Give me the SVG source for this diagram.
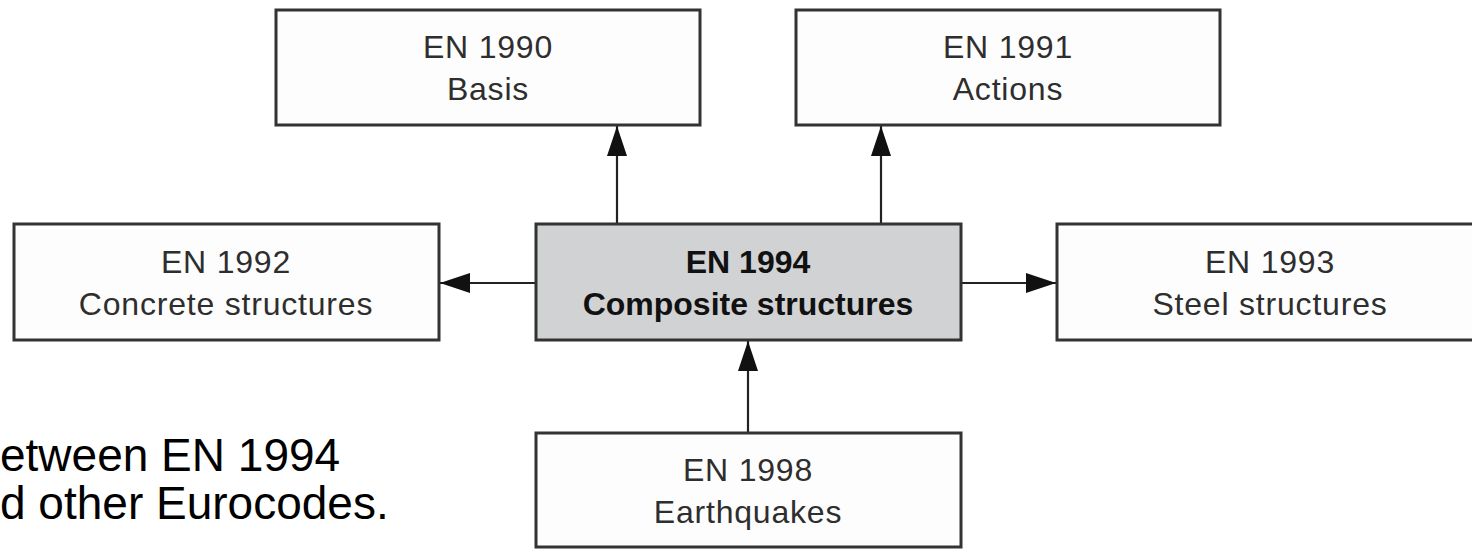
<svg xmlns="http://www.w3.org/2000/svg" width="1472" height="549" viewBox="0 0 1472 549">
<style>
.box{fill:#fdfdfd;stroke:#333;stroke-width:3}
.main{fill:#d1d2d4;stroke:#333;stroke-width:3}
.t{font-family:"Liberation Sans",Arial,sans-serif;font-size:32px;letter-spacing:0.8px;fill:#2e2e2e;text-anchor:middle}
.b{font-family:"Liberation Sans",Arial,sans-serif;font-size:32px;font-weight:bold;fill:#111;text-anchor:middle}
.cap{font-family:"Liberation Sans",Arial,sans-serif;font-size:46px;fill:#000}
.c{stroke:#222;stroke-width:2.2;fill:none;marker-end:url(#ah)}
</style>
<defs>
<marker id="ah" viewBox="0 0 30 20" refX="30" refY="10" markerWidth="30" markerHeight="20" markerUnits="userSpaceOnUse" orient="auto">
<path d="M0,0 L30,10 L0,20 Z" fill="#111"/>
</marker>
</defs>
<rect width="1472" height="549" fill="#fff"/>
<g id="connectors">
<line class="c" x1="617" y1="224" x2="617" y2="126"/>
<line class="c" x1="881" y1="224" x2="881" y2="126"/>
<line class="c" x1="536" y1="283" x2="440" y2="283"/>
<line class="c" x1="961" y1="283" x2="1056" y2="283"/>
<line class="c" x1="748" y1="433" x2="748" y2="341"/>
</g>
<g id="en1990">
<rect class="box" x="276" y="10" width="424" height="115"/>
<text class="t" x="488" y="58">EN 1990</text>
<text class="t" x="488" y="100">Basis</text>
</g>
<g id="en1991">
<rect class="box" x="796" y="10" width="424" height="115"/>
<text class="t" x="1008" y="58">EN 1991</text>
<text class="t" x="1008" y="100">Actions</text>
</g>
<g id="en1992">
<rect class="box" x="14" y="224" width="425" height="116"/>
<text class="t" x="226" y="273">EN 1992</text>
<text class="t" x="226" y="315">Concrete structures</text>
</g>
<g id="en1994">
<rect class="main" x="536" y="224" width="425" height="116"/>
<text class="b" x="748" y="273">EN 1994</text>
<text class="b" x="748" y="315">Composite structures</text>
</g>
<g id="en1993">
<rect class="box" x="1057" y="224" width="425" height="116"/>
<text class="t" x="1270" y="273">EN 1993</text>
<text class="t" x="1270" y="315">Steel structures</text>
</g>
<g id="en1998">
<rect class="box" x="536" y="433" width="425" height="114"/>
<text class="t" x="748" y="481">EN 1998</text>
<text class="t" x="748" y="523">Earthquakes</text>
</g>
<g id="caption">
<text class="cap" x="0" y="471">etween EN 1994</text>
<text class="cap" x="0" y="519">d other Eurocodes.</text>
</g>
</svg>
